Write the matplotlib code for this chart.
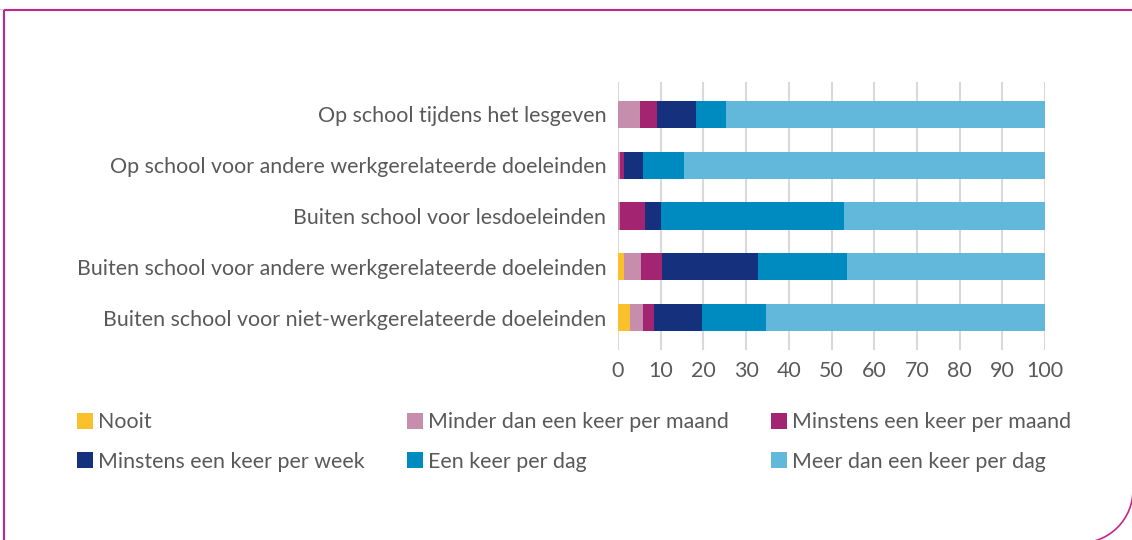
import matplotlib
matplotlib.use("Agg")
import matplotlib.pyplot as plt
import numpy as np
from matplotlib.patches import Patch, Arc

plt.rcParams['font.family'] = ['Lato', 'DejaVu Sans']

categories = [
    "Op school tijdens het lesgeven",
    "Op school voor andere werkgerelateerde doeleinden",
    "Buiten school voor lesdoeleinden",
    "Buiten school voor andere werkgerelateerde doeleinden",
    "Buiten school voor niet-werkgerelateerde doeleinden",
]
series_names = [
    "Nooit",
    "Minder dan een keer per maand",
    "Minstens een keer per maand",
    "Minstens een keer per week",
    "Een keer per dag",
    "Meer dan een keer per dag",
]
nooit = [0.0, 0.0, 0.0, 1.4, 2.8]
minder_maand = [5.1, 0.5, 0.5, 4.0, 3.1]
minstens_maand = [4.0, 0.9, 5.8, 4.9, 2.5]
minstens_week = [9.2, 4.5, 3.8, 22.5, 11.3]
per_dag = [7.0, 9.6, 42.8, 20.8, 15.0]
meer_per_dag = [74.7, 84.5, 47.1, 46.4, 65.3]
x_ticks = [0, 10, 20, 30, 40, 50, 60, 70, 80, 90, 100]

series = [nooit, minder_maand, minstens_maand, minstens_week, per_dag, meer_per_dag]
colors = ["#FBC12D", "#C78DAD", "#A32471", "#15317E", "#008BC0", "#62B8DB"]
text_color = "#595959"
FS = 15.4

W, H = 1132, 540
fig = plt.figure(figsize=(W / 100, H / 100), dpi=100)

ax = fig.add_axes([618 / W, 1 - 350 / H, (1045 - 618) / W, (350 - 82) / H])
y = np.arange(len(categories))
left = np.zeros(len(categories))
handles = []
for name, vals, c in zip(series_names, series, colors):
    vals = np.array(vals)
    ax.barh(y, vals, left=left, height=0.53, color=c, zorder=3, linewidth=0)
    left += vals
    handles.append(Patch(facecolor=c, edgecolor='none', label=name))

ax.set_xlim(0, 100)
ax.set_ylim(len(categories) - 1 + 0.63, -0.63)
ax.set_yticks(y)
ax.set_yticklabels(categories)
ax.set_xticks(x_ticks)
ax.set_xticklabels([str(t) for t in x_ticks])
ax.tick_params(axis='y', length=0, pad=8.5, labelsize=FS, labelcolor=text_color)
ax.tick_params(axis='x', length=0, pad=8, labelsize=FS, labelcolor=text_color)
ax.grid(axis='x', color="#D9D9D9", linewidth=1.5, zorder=0)
ax.grid(axis='y', visible=False)
for s in ax.spines.values():
    s.set_visible(False)

# legend (row-major order in picture -> column-major for matplotlib)
order = [0, 3, 1, 4, 2, 5]
leg = fig.legend([handles[i] for i in order], [series_names[i] for i in order],
                 ncol=3, loc='upper left', bbox_to_anchor=(77 / W, 1 - 412.5 / H),
                 frameon=False, fontsize=FS, handlelength=0.75, handleheight=0.75,
                 handletextpad=0.25, columnspacing=1.95, labelspacing=0.9,
                 borderaxespad=0, borderpad=0)
for t in leg.get_texts():
    t.set_color(text_color)

# frame
ov = fig.add_axes([0, 0, 1, 1], zorder=-1)
ov.set_xlim(0, W)
ov.set_ylim(H, 0)
ov.axis('off')
ov.plot([0, W], [8.5, 8.5], color="#D0D0D8", lw=0.8)
mag = "#C4258D"
ov.plot([4, W], [10, 10], color=mag, lw=1.5, solid_capstyle='butt')
ov.plot([4, 4], [10, H], color=mag, lw=1.5, solid_capstyle='butt')
ov.add_patch(Arc((1080, 490), 106, 106, theta1=0, theta2=90, color=mag, lw=1.2))

fig.savefig("out.png", dpi=100)
